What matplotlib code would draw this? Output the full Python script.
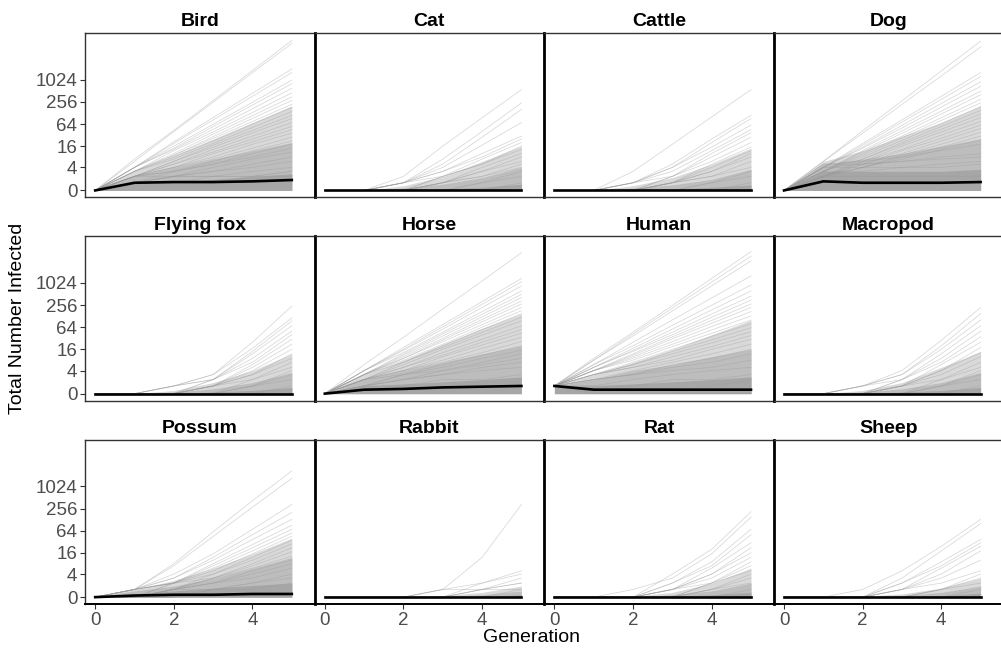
import numpy as np
import matplotlib
matplotlib.use('Agg')
import matplotlib.pyplot as plt
from matplotlib.ticker import NullLocator

plt.rcParams['font.family'] = ['Liberation Sans', 'DejaVu Sans']

generations = [0, 1, 2, 3, 4, 5]
panel_names = ['Bird', 'Cat', 'Cattle', 'Dog',
               'Flying fox', 'Horse', 'Human', 'Macropod',
               'Possum', 'Rabbit', 'Rat', 'Sheep']
y_ticks = [0, 4, 16, 64, 256, 1024]
x_ticks = [0, 2, 4]

# simulated runs, total number infected per generation
bird_runs = [
    [0, 7, 43, 280, 1830, 12000], [0, 6, 40, 250, 1600, 10000],
    [0, 4, 21, 96, 440, 2000], [0, 4, 19, 83, 365, 1600],
    [0, 4, 16, 63, 250, 1000], [0, 4, 14, 55, 210, 800],
    [0, 4, 13, 46, 167, 600], [0, 3, 12, 39, 132, 450],
    [0, 3, 10, 34, 108, 350], [0, 3, 9, 29, 91, 280],
    [0, 3, 9, 26, 75, 220], [0, 3, 8, 22, 64, 180],
    [0, 3, 7, 19, 52, 140], [0, 2, 6, 17, 43, 110],
    [0, 2, 6, 15, 37, 90], [0, 2, 5, 13, 30, 70],
    [0, 2, 5, 11, 25, 55], [0, 2, 4, 10, 21, 45],
    [0, 2, 4, 8, 18, 36], [0, 2, 4, 7, 14, 28],
    [0, 2, 3, 6, 12, 22], [0, 2, 3, 5, 10, 18],
    [0, 1, 3, 5, 8, 14], [0, 1, 2, 4, 7, 11],
    [0, 1, 2, 3, 5, 8], [0, 1, 2, 3, 4, 6],
    [0, 1, 2, 2, 3, 4], [0, 1, 1, 2, 2, 3],
    [0, 1, 1, 1, 2, 2], [0, 2, 2, 2, 2, 3],
]
cat_runs = [
    [0, 0, 2, 16, 95, 550], [0, 0, 1, 7, 40, 240], [0, 0, 1, 5, 28, 160],
    [0, 0, 1, 4, 17, 70], [0, 0, 1, 3, 10, 30], [0, 0, 1, 3, 8, 25],
    [0, 0, 0, 2, 7, 20], [0, 0, 1, 2, 5, 16], [0, 0, 0, 2, 5, 13],
    [0, 0, 0, 1, 4, 10], [0, 0, 0, 1, 3, 8], [0, 0, 0, 1, 3, 6],
    [0, 0, 0, 1, 2, 5], [0, 0, 0, 1, 2, 4], [0, 0, 0, 0, 1, 3],
    [0, 0, 0, 0, 1, 2], [0, 0, 0, 0, 0, 1],
]
cattle_runs = [
    [0, 0, 3, 18, 100, 550], [0, 0, 1, 5, 25, 110], [0, 0, 1, 4, 20, 90],
    [0, 0, 1, 4, 15, 60], [0, 0, 1, 3, 12, 45], [0, 0, 0, 2, 10, 37],
    [0, 0, 1, 2, 8, 28], [0, 0, 0, 2, 6, 20], [0, 0, 0, 1, 5, 15],
    [0, 0, 0, 1, 4, 12], [0, 0, 0, 1, 3, 10], [0, 0, 0, 1, 3, 8],
    [0, 0, 0, 1, 2, 6], [0, 0, 0, 1, 2, 4], [0, 0, 0, 0, 1, 3],
    [0, 0, 0, 0, 1, 2], [0, 0, 0, 0, 0, 1],
]
dog_runs = [
    [0, 6, 42, 274, 1780, 11500], [0, 6, 36, 220, 1300, 8000],
    [0, 4, 19, 83, 365, 1600], [0, 4, 17, 72, 300, 1250],
    [0, 4, 15, 59, 231, 900], [0, 4, 14, 50, 185, 680],
    [0, 3, 12, 42, 144, 500], [0, 3, 11, 36, 120, 400],
    [0, 3, 10, 30, 95, 300], [0, 3, 9, 27, 80, 240],
    [0, 3, 8, 23, 66, 190], [0, 3, 7, 20, 55, 150],
    [0, 2, 7, 18, 46, 120], [0, 2, 6, 16, 39, 95],
    [0, 2, 6, 13, 32, 75], [0, 2, 5, 12, 26, 60],
    [0, 2, 5, 10, 22, 48], [0, 2, 4, 9, 18, 38],
    [0, 2, 4, 8, 15, 30], [0, 2, 4, 7, 13, 24],
    [0, 5, 6, 8, 12, 18], [0, 4, 5, 6, 8, 10],
    [0, 5, 5, 6, 7, 8], [0, 4, 4, 4, 5, 6],
    [0, 3, 3, 4, 4, 5], [0, 2, 2, 2, 2, 2], [0, 1, 1, 1, 1, 1],
]
flying_fox_runs = [
    [0, 0, 1, 3, 25, 240], [0, 0, 1, 3, 17, 115], [0, 0, 1, 2, 14, 95],
    [0, 0, 0, 2, 12, 70], [0, 0, 1, 2, 9, 50], [0, 0, 0, 2, 7, 40],
    [0, 0, 0, 1, 6, 30], [0, 0, 0, 1, 5, 22], [0, 0, 0, 1, 4, 16],
    [0, 0, 0, 1, 3, 12], [0, 0, 0, 1, 3, 9], [0, 0, 0, 1, 2, 7],
    [0, 0, 0, 0, 2, 5], [0, 0, 0, 0, 1, 4], [0, 0, 0, 0, 1, 3],
    [0, 0, 0, 0, 1, 2], [0, 0, 0, 0, 0, 1],
]
horse_runs = [
    [0, 6, 34, 200, 1160, 6800], [0, 4, 18, 76, 320, 1350],
    [0, 4, 16, 66, 270, 1100], [0, 4, 15, 57, 220, 850],
    [0, 4, 13, 47, 170, 620], [0, 3, 12, 42, 144, 500],
    [0, 3, 11, 37, 122, 410], [0, 3, 10, 32, 104, 330],
    [0, 3, 9, 29, 90, 275], [0, 3, 9, 26, 75, 220],
    [0, 3, 8, 22, 64, 180], [0, 3, 7, 20, 55, 150],
    [0, 2, 7, 18, 46, 120], [0, 2, 6, 16, 39, 95],
    [0, 2, 5, 13, 30, 70], [0, 2, 5, 11, 25, 55],
    [0, 2, 4, 10, 21, 44], [0, 2, 4, 8, 17, 34],
    [0, 2, 4, 7, 13, 26], [0, 2, 3, 6, 11, 20],
    [0, 1, 3, 5, 9, 15], [0, 1, 3, 4, 7, 12],
    [0, 1, 2, 4, 6, 9], [0, 1, 2, 3, 5, 7],
    [0, 1, 2, 3, 4, 5], [0, 1, 1, 2, 2, 3],
]
human_runs = [
    [1, 9, 47, 250, 1360, 7300], [1, 8, 42, 212, 1080, 5500],
    [1, 8, 37, 177, 855, 4100], [1, 6, 25, 101, 400, 1600],
    [1, 6, 20, 72, 254, 900], [1, 5, 17, 57, 189, 620],
    [1, 5, 15, 47, 146, 450], [1, 5, 14, 40, 119, 350],
    [1, 4, 12, 35, 98, 275], [1, 4, 11, 31, 82, 220],
    [1, 4, 10, 26, 67, 170], [1, 4, 9, 22, 54, 130],
    [1, 4, 8, 19, 44, 100], [1, 3, 7, 16, 36, 80],
    [1, 3, 6, 14, 29, 62], [1, 3, 6, 12, 24, 48],
    [1, 3, 5, 10, 19, 38], [1, 3, 5, 8, 16, 30],
    [1, 2, 4, 7, 12, 22], [1, 2, 3, 6, 9, 16],
    [1, 2, 3, 5, 7, 12], [1, 2, 3, 4, 5, 8],
    [1, 1, 2, 3, 4, 5], [1, 1, 1, 2, 2, 3],
    [1, 0, 0, 0, 1, 2], [1, 0, 0, 0, 0, 0],
]
macropod_runs = [
    [0, 0, 1, 4, 28, 220], [0, 0, 1, 3, 20, 150], [0, 0, 1, 3, 16, 100],
    [0, 0, 0, 2, 12, 70], [0, 0, 1, 2, 9, 50], [0, 0, 0, 2, 7, 35],
    [0, 0, 0, 1, 6, 25], [0, 0, 0, 1, 4, 18], [0, 0, 0, 1, 4, 13],
    [0, 0, 0, 1, 3, 10], [0, 0, 0, 1, 2, 7], [0, 0, 0, 0, 2, 5],
    [0, 0, 0, 0, 1, 4], [0, 0, 0, 0, 1, 3], [0, 0, 0, 0, 1, 2],
    [0, 0, 0, 0, 0, 1],
]
possum_runs = [
    [0, 1, 8, 60, 420, 2700], [0, 1, 7, 45, 280, 1700],
    [0, 1, 4, 15, 70, 330], [0, 1, 3, 12, 50, 200],
    [0, 1, 3, 10, 37, 130], [0, 1, 2, 8, 27, 90],
    [0, 1, 2, 7, 22, 70], [0, 0, 2, 6, 18, 55],
    [0, 1, 2, 5, 15, 45], [0, 0, 2, 4, 12, 35],
    [0, 0, 1, 4, 10, 28], [0, 1, 2, 3, 8, 22],
    [0, 0, 1, 3, 7, 17], [0, 0, 1, 3, 6, 13],
    [0, 0, 1, 2, 5, 10], [0, 0, 1, 2, 4, 8],
    [0, 0, 1, 2, 3, 6], [0, 0, 1, 1, 2, 4],
    [0, 0, 0, 1, 2, 3], [0, 0, 0, 1, 1, 2],
]
rabbit_runs = [
    [0, 0, 0, 1, 12, 330], [0, 0, 0, 1, 2, 5], [0, 0, 0, 0, 2, 4],
    [0, 0, 0, 0, 1, 3], [0, 0, 0, 1, 1, 2], [0, 0, 0, 0, 1, 2],
    [0, 0, 0, 0, 0, 1], [0, 0, 0, 0, 1, 1],
]
rat_runs = [
    [0, 0, 0, 4, 20, 210], [0, 0, 1, 3, 15, 150], [0, 0, 0, 2, 9, 70],
    [0, 0, 0, 2, 7, 50], [0, 0, 0, 1, 6, 30], [0, 0, 0, 1, 4, 22],
    [0, 0, 0, 1, 4, 16], [0, 0, 0, 1, 3, 12], [0, 0, 0, 1, 2, 9],
    [0, 0, 0, 0, 2, 7], [0, 0, 0, 0, 2, 5], [0, 0, 0, 0, 1, 4],
    [0, 0, 0, 0, 1, 3], [0, 0, 0, 0, 1, 2], [0, 0, 0, 0, 0, 1],
]
sheep_runs = [
    [0, 0, 1, 5, 24, 130], [0, 0, 0, 3, 18, 100], [0, 0, 0, 2, 9, 37],
    [0, 0, 0, 2, 7, 30], [0, 0, 0, 1, 6, 24], [0, 0, 0, 1, 4, 18],
    [0, 0, 0, 1, 3, 10], [0, 0, 0, 1, 2, 5], [0, 0, 0, 0, 1, 4],
    [0, 0, 0, 0, 1, 3], [0, 0, 0, 0, 1, 2], [0, 0, 0, 0, 0, 1],
]

# median of runs (black line)
bird_median = [0, 1, 1.1, 1.1, 1.2, 1.4]
cat_median = [0, 0, 0, 0, 0, 0]
cattle_median = [0, 0, 0, 0, 0, 0]
dog_median = [0, 1.2, 1, 1, 1, 1.1]
flying_fox_median = [0, 0, 0, 0, 0, 0]
horse_median = [0, 0.5, 0.6, 0.8, 0.9, 1]
human_median = [1, 0.5, 0.5, 0.5, 0.5, 0.5]
macropod_median = [0, 0, 0, 0, 0, 0]
possum_median = [0, 0.2, 0.3, 0.3, 0.4, 0.4]
rabbit_median = [0, 0, 0, 0, 0, 0]
rat_median = [0, 0, 0, 0, 0, 0]
sheep_median = [0, 0, 0, 0, 0, 0]

# where the runs pile up: (solid core, dense, sparse) upper edges
bird_spread = ([0, 1, 1.2, 1.5, 2, 2.5], [0, 2, 4, 7, 12, 20],
               [0, 3, 9, 25, 70, 200])
cat_spread = ([0, 0, 0, 0.2, 0.4, 0.8], [0, 0, 0.3, 0.8, 1.8, 4],
              [0, 0, 0.6, 2, 6, 16])
cattle_spread = ([0, 0, 0, 0.2, 0.4, 0.7], [0, 0, 0.3, 0.7, 1.5, 3.5],
                 [0, 0, 0.6, 1.8, 5, 14])
dog_spread = ([0, 3, 3, 3, 3, 3.5], [0, 5, 7, 10, 16, 25],
              [0, 6, 12, 30, 70, 200])
flying_fox_spread = ([0, 0, 0, 0.2, 0.4, 0.8], [0, 0, 0.2, 0.6, 1.5, 3.5],
                     [0, 0, 0.4, 1.5, 4, 12])
horse_spread = ([0, 1, 1.3, 1.6, 2, 2.5], [0, 2, 4, 7, 12, 20],
                [0, 3, 8, 22, 60, 150])
human_spread = ([1, 1, 1.3, 1.6, 2, 2.5], [1, 2, 4, 6, 10, 16],
                [1, 3, 7, 16, 40, 100])
macropod_spread = ([0, 0, 0, 0.2, 0.4, 0.8], [0, 0, 0.2, 0.6, 1.5, 3.5],
                   [0, 0, 0.4, 1.5, 5, 14])
possum_spread = ([0, 0.4, 0.8, 1.2, 1.6, 2], [0, 0.8, 1.5, 3, 6, 12],
                 [0, 1, 2.5, 6, 15, 40])
rabbit_spread = ([0, 0, 0, 0, 0.1, 0.3], [0, 0, 0, 0.1, 0.3, 0.8],
                 [0, 0, 0, 0.2, 0.6, 1.5])
rat_spread = ([0, 0, 0, 0.1, 0.3, 0.6], [0, 0, 0, 0.3, 0.8, 2],
              [0, 0, 0.1, 0.6, 2, 6])
sheep_spread = ([0, 0, 0, 0.1, 0.2, 0.5], [0, 0, 0, 0.2, 0.6, 1.5],
                [0, 0, 0.1, 0.4, 1.2, 3])

panels = {
    'Bird': (bird_runs, bird_median, bird_spread),
    'Cat': (cat_runs, cat_median, cat_spread),
    'Cattle': (cattle_runs, cattle_median, cattle_spread),
    'Dog': (dog_runs, dog_median, dog_spread),
    'Flying fox': (flying_fox_runs, flying_fox_median, flying_fox_spread),
    'Horse': (horse_runs, horse_median, horse_spread),
    'Human': (human_runs, human_median, human_spread),
    'Macropod': (macropod_runs, macropod_median, macropod_spread),
    'Possum': (possum_runs, possum_median, possum_spread),
    'Rabbit': (rabbit_runs, rabbit_median, rabbit_spread),
    'Rat': (rat_runs, rat_median, rat_spread),
    'Sheep': (sheep_runs, sheep_median, sheep_spread),
}
spread_colors = ['#a6a6a6', '#bdbdbd', '#d9d9d9']


# pseudo-log scale, base 2
def pseudo_log(y):
    return np.arcsinh(np.asarray(y, dtype=float) / 2) / np.log(2)


def pseudo_exp(u):
    return 2 * np.sinh(np.asarray(u, dtype=float) * np.log(2))


W, H = 1001, 648
fig = plt.figure(figsize=(W / 100, H / 100), dpi=100)

col_left = [85 + i * 229.6 for i in range(4)]
row_top = [33.3, 236.5, 440]
panel_w, panel_h = 229.6, 164

for i, name in enumerate(panel_names):
    row, col = divmod(i, 4)
    ax = fig.add_axes([col_left[col] / W, 1 - (row_top[row] + panel_h) / H,
                       panel_w / W, panel_h / H])
    ax.set_yscale('function', functions=(pseudo_log, pseudo_exp))
    runs, median, spread = panels[name]

    # draw widest band first so the darker core sits on top
    for upper, colour in reversed(list(zip(spread, spread_colors))):
        ax.fill_between(generations, 0, upper, color=colour, lw=0, zorder=1)
    for run in runs:
        ax.plot(generations, run, color='#9c9c9c', lw=0.55, alpha=0.4, zorder=2)
    ax.plot(generations, median, color='black', lw=1.9, zorder=3)

    ax.set_xlim(-0.26, 5.58)
    ax.set_ylim(pseudo_exp(-0.62), pseudo_exp(14.2))
    ax.set_yticks(y_ticks)
    ax.set_yticklabels([str(t) for t in y_ticks])
    ax.set_xticks(x_ticks)
    ax.yaxis.set_minor_locator(NullLocator())
    ax.xaxis.set_minor_locator(NullLocator())
    ax.tick_params(axis='both', labelsize=13.5, labelcolor='#4d4d4d',
                   color='#333333', length=3.5, width=0.8, pad=2)
    ax.tick_params(left=(col == 0), labelleft=(col == 0),
                   bottom=(row == 2), labelbottom=(row == 2))

    for side in ['top', 'right', 'bottom', 'left']:
        ax.spines[side].set_color('#333333')
        ax.spines[side].set_linewidth(1.0)
    if col > 0:
        ax.spines['left'].set_color('black')
        ax.spines['left'].set_linewidth(2.0)
    if row == 2:
        ax.spines['bottom'].set_color('black')
        ax.spines['bottom'].set_linewidth(1.4)

    ax.set_title(name, fontsize=14, fontweight='bold', pad=5)

fig.text(18 / W, 1 - 318 / H, 'Total Number Infected', rotation=90,
         ha='center', va='center', fontsize=14)
fig.text(532 / W, 1 - 637 / H, 'Generation', ha='center', va='center',
         fontsize=14)

fig.savefig('out.png', dpi=100)
